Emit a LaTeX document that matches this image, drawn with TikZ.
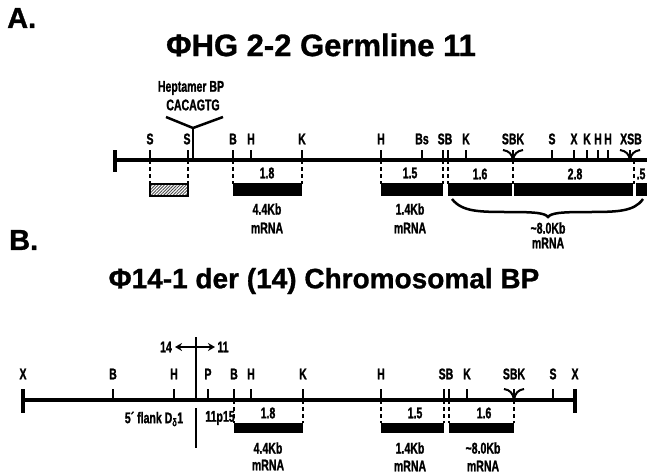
\documentclass[tikz,border=0pt]{standalone}
\usepackage{fontspec}
\setmainfont{Liberation Sans}
\newfontfamily\cond[FakeStretch=0.68,FakeBold=1.2]{Liberation Sans Bold}
\newfontfamily\ttlfont[FakeBold=1]{Liberation Sans Bold}
\usetikzlibrary{patterns.meta,arrows.meta}
\begin{document}
\begin{tikzpicture}[x=1pt,y=-1pt,
  lbl/.style={font=\cond\fontsize{15.5}{15.5}\selectfont, inner sep=0pt},
  ttl/.style={font=\ttlfont\fontsize{31}{31}\selectfont, inner sep=0pt},
  hdr/.style={font=\ttlfont\fontsize{29}{29}\selectfont, inner sep=0pt, anchor=west},
  mainline/.style={line width=3.2pt},
  tk/.style={line width=2pt},
  dsh/.style={line width=2pt, dash pattern=on 4pt off 3pt},
  mbar/.style={fill=black},
  crv/.style={line width=2pt}]
\useasboundingbox (0,0) rectangle (647,474);

% ---------------- Panel A ----------------
\node[hdr] (hA) at (7,18) {A.};
\node[ttl] (tA) at (321,45) {ΦHG 2-2 Germline 11};
\node[lbl] (hep1) at (191,88) {Heptamer BP};
\node[lbl] (hep2) at (193,105) {CACAGTG};
\coordinate (vtop) at (193,128);
\draw[line width=2.5pt] (166,117) -- (vtop) -- (223,117);
\draw[line width=1.2pt] (vtop) -- (193,160);

\draw[mainline] (115,160) -- (647,160);
\draw[mainline] (115,150) -- (115,172);
\foreach \x in {150,188,233,251,302,381,422,443,448,466,513,552,574,587,598,608,630}
  \draw[tk] (\x,150) -- (\x,160);
% converging sites
\draw[crv] (503,150) .. controls (509,151) and (512,154) .. (513,160);
\draw[crv] (523,150) .. controls (517,151) and (514,154) .. (513,160);
\draw[crv] (620,150) .. controls (626,151) and (629,154) .. (630,160);
\draw[crv] (640,150) .. controls (634,151) and (631,154) .. (630,160);

\foreach \x/\t/\n in {150/S/s1,187/S/s2,233/B/b1,251/H/h1,302/K/k1,381/H/h2,422/Bs/bs,445/SB/sb,466/K/k2,513/SBK/sbk,552/S/s3,574/X/x1,587/K/k3,598/H/h3,608/H/h4,631/XSB/xsb}
  \node[lbl] (a\n) at (\x,139) {\t};

\foreach \x in {150,188,233,302,381,443,448,513,634}
  \draw[dsh] (\x,160) -- (\x,184);

\draw[line width=1.5pt, pattern={Lines[angle=45,distance=2.2pt,line width=0.9pt]}, pattern color=black!70] (150,184) rectangle (188,196);
\fill[mbar] (233,183) rectangle (302,196);
\fill[mbar] (381,183) rectangle (443,196);
\fill[mbar] (448,183) rectangle (512.3,196);
\fill[mbar] (513.7,183) rectangle (633,196);
\fill[mbar] (635.5,183) rectangle (647,196);

\node[lbl] (n18a) at (267,173) {1.8};
\node[lbl] (n15a) at (410,173) {1.5};
\node[lbl] (n16a) at (480,174) {1.6};
\node[lbl] (n28a) at (575,174) {2.8};
\node[lbl] (n05a) at (641,174) {.5};

\node[lbl] (m1a) at (267,209) {4.4Kb};
\node[lbl] (m1b) at (267,228) {mRNA};
\node[lbl] (m2a) at (410,209) {1.4Kb};
\node[lbl] (m2b) at (410,228) {mRNA};
\draw[line width=2.5pt] (452,199) .. controls (462,212) and (480,212) .. (510,212)
  .. controls (535,212) and (545,213) .. (548,217)
  .. controls (551,213) and (561,212) .. (586,212)
  .. controls (616,212) and (634,212) .. (643,199);
\node[lbl] (m3a) at (548,228) {\char"7E 8.0Kb};
\node[lbl] (m3b) at (548,243) {mRNA};

% ---------------- Panel B ----------------
\node[hdr] (hB) at (9,240) {B.};
\node[ttl,font=\ttlfont\fontsize{28}{28}\selectfont] (tB) at (324,281) {Φ14-1 der (14) Chromosomal BP};

\draw[line width=2.5pt] (196,337) -- (196,400);
\draw[line width=2.5pt] (196,408) -- (196,448);
\coordinate (arL) at (175,347);
\coordinate (arR) at (215,347);
\draw[line width=2pt, {Stealth[length=7pt,width=8pt]}-{Stealth[length=7pt,width=8pt]}] (arL) -- (arR);
\node[lbl] (l14) at (166,347) {14};
\node[lbl] (l11) at (223,347) {11};

\draw[mainline] (23,400) -- (575,400);
\draw[mainline] (23,389) -- (23,413);
\draw[mainline] (575,389) -- (575,413);
\foreach \x in {113,174,208,234,251,303,381,444,449,467,514,553}
  \draw[tk] (\x,389) -- (\x,400);
\draw[crv] (504,389) .. controls (510,390) and (513,393) .. (514,400);
\draw[crv] (524,389) .. controls (518,390) and (515,393) .. (514,400);

\foreach \x/\t/\n in {23/X/x1,113/B/b1,174/H/h1,208/P/p1,234/B/b2,251/H/h2,303/K/k1,381/H/h3,446/SB/sb,467/K/k2,514/SBK/sbk,553/S/s1,575/X/x2}
  \node[lbl] (b\n) at (\x,374) {\t};

\foreach \x in {234,303,381,444,449,514}
  \draw[dsh] (\x,400) -- (\x,423);

\fill[mbar] (234,423) rectangle (303,433);
\fill[mbar] (381,423) rectangle (444,433);
\fill[mbar] (449,423) rectangle (514,433);

\node[lbl] (fl) at (154,419) {5´ flank D\textsubscript{δ}1};
\node[lbl] (p15) at (220,418) {11p15};
\node[lbl] (n18b) at (268,413) {1.8};
\node[lbl] (n15b) at (415,413) {1.5};
\node[lbl] (n16b) at (484,413) {1.6};
\node[lbl] (mb1a) at (268,448) {4.4Kb};
\node[lbl] (mb1b) at (268,465) {mRNA};
\node[lbl] (mb2a) at (410,448) {1.4Kb};
\node[lbl] (mb2b) at (410,466) {mRNA};
\node[lbl] (mb3a) at (483,448) {\char"7E 8.0Kb};
\node[lbl] (mb3b) at (483,466) {mRNA};
\end{tikzpicture}
\end{document}
